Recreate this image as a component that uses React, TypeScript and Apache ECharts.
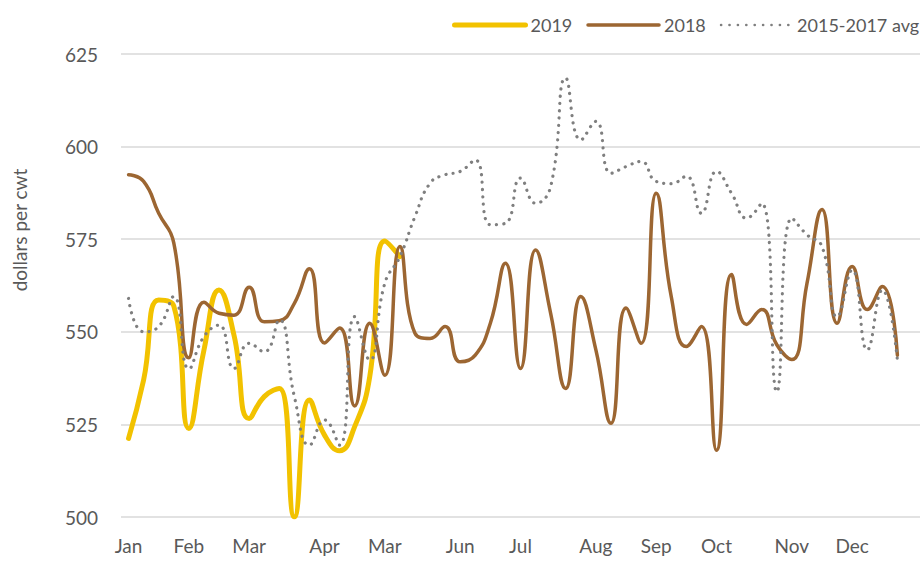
import React, { useEffect, useRef } from "react";
import * as echarts from "echarts";

// Weekly categories (53 slots, week 53 empty)
const weekCount = 53;
const monthLabels = ["Jan", "Feb", "Mar", "Apr", "Mar", "Jun", "Jul", "Aug", "Sep", "Oct", "Nov", "Dec"];
const monthWeekIndex = [0, 4, 8, 13, 17, 22, 26, 31, 35, 39, 44, 48];

const yTicks = [500, 525, 550, 575, 600, 625];

const series2019 = [
  521.2, 537, 558.6, 557, 523.9, 545, 561.3, 549, 526.6, 532.5,
  534.7, 500, 531.6, 522.1, 517.9, 524.4, 537.9, 574.5, 570.3,
];

const series2018 = [
  592.4, 590.6, 582, 574, 543, 558, 555, 554.5, 562, 552.7,
  553, 557.7, 567, 547, 551, 530, 552.3, 538.3, 573, 549.6,
  548.2, 551.4, 541.9, 543.7, 552.3, 568.5, 540.1, 572.1, 555, 534.7,
  559.5, 545.1, 525.3, 556.4, 546.9, 587.4, 559.5, 546, 551.4, 518,
  565.5, 552, 556, 546.5, 542.5, 563, 583, 552.3, 567.6, 556,
  562.2, 543.7,
];

const seriesAvg = [
  559, 550, 551.4, 559.5, 540, 548.7, 551.8, 540.1, 546.9, 544.6,
  553.2, 532.5, 519.4, 526.2, 519.4, 554.1, 542.4, 563.1, 570.3, 581.1,
  590.1, 592.4, 593.3, 596.4, 578.9, 579.3, 591.5, 584.7, 589.2, 618.5,
  601.8, 606.8, 592.8, 594.6, 596, 590.6, 590, 592, 582, 593.3,
  587.4, 580.7, 584.7, 533.8, 580.7, 576.2, 573, 554.1, 566.7, 545.1,
  561.3, 542.4,
];

const FONT = "Lato, 'Noto Sans', sans-serif";
const TEXT = "#595959";
const YELLOW = "#F2C200";
const BROWN = "#9C6632";
const GREY = "#7f7f7f";
const DOTS: number[] = [0.1, 7.2];

export default function App() {
  const ref = useRef<HTMLDivElement>(null);

  useEffect(() => {
    if (!ref.current) return;
    const chart = echarts.init(ref.current, undefined, { renderer: "svg" });

    const categories = Array.from({ length: weekCount }, (_, i) => {
      const k = monthWeekIndex.indexOf(i);
      return k >= 0 ? monthLabels[k] : "";
    });
    const pad = (arr: number[]) =>
      categories.map((_, i) => (i < arr.length ? arr[i] : null));

    chart.setOption({
      animation: false,
      backgroundColor: "#ffffff",
      textStyle: { fontFamily: FONT },
      grid: { left: 121, right: 0, top: 54, bottom: 45 },
      legend: {
        left: 452,
        top: 16,
        width: 700,
        padding: 0,
        orient: "horizontal",
        itemWidth: 71,
        itemHeight: 18,
        itemGap: 14,
        itemStyle: { opacity: 0 },
        textStyle: { fontSize: 18, color: TEXT, fontFamily: FONT },
        data: [
          { name: "2019", lineStyle: { width: 5, color: YELLOW, cap: "round" } },
          { name: "2018", lineStyle: { width: 3.5, color: BROWN, cap: "round" } },
          {
            name: "2015-2017 avg",
            lineStyle: { width: 2.6, color: GREY, type: [0.1, 8.3], cap: "round" },
          },
        ],
      },
      graphic: [
        {
          type: "text",
          x: 19.5,
          y: 230,
          rotation: Math.PI / 2,
          style: {
            text: "dollars per cwt",
            fontSize: 19,
            fontFamily: FONT,
            fill: TEXT,
            align: "center",
            verticalAlign: "middle",
          },
        },
      ],
      xAxis: {
        type: "category",
        data: categories,
        boundaryGap: true,
        axisLine: { show: false },
        axisTick: { show: false },
        axisLabel: {
          interval: 0,
          margin: 19,
          fontSize: 19,
          color: TEXT,
          fontFamily: FONT,
        },
      },
      yAxis: {
        type: "value",
        min: yTicks[0],
        max: yTicks[yTicks.length - 1],
        interval: 25,
        axisLine: { show: false },
        axisTick: { show: false },
        axisLabel: { margin: 23, fontSize: 19, color: TEXT, fontFamily: FONT },
        splitLine: { lineStyle: { color: "#d9d9d9", width: 1.5 } },
      },
      series: [
        {
          name: "2019",
          type: "line",
          data: pad(series2019),
          smooth: 0.5,
          symbol: "none",
          lineStyle: { color: YELLOW, width: 5, cap: "round", join: "round" },
          itemStyle: { color: YELLOW },
        },
        {
          name: "2018",
          type: "line",
          data: pad(series2018),
          smooth: 0.5,
          symbol: "none",
          lineStyle: { color: BROWN, width: 3.5, cap: "round", join: "round" },
          itemStyle: { color: BROWN },
        },
        {
          name: "2015-2017 avg",
          type: "line",
          data: pad(seriesAvg),
          smooth: 0.5,
          symbol: "none",
          lineStyle: { color: GREY, width: 3.2, type: DOTS, cap: "round" },
          itemStyle: { color: GREY },
        },
      ],
    });

    return () => chart.dispose();
  }, []);

  return (
    <div
      ref={ref}
      style={{ position: "absolute", left: 0, top: 0, width: 920, height: 562 }}
    />
  );
}
